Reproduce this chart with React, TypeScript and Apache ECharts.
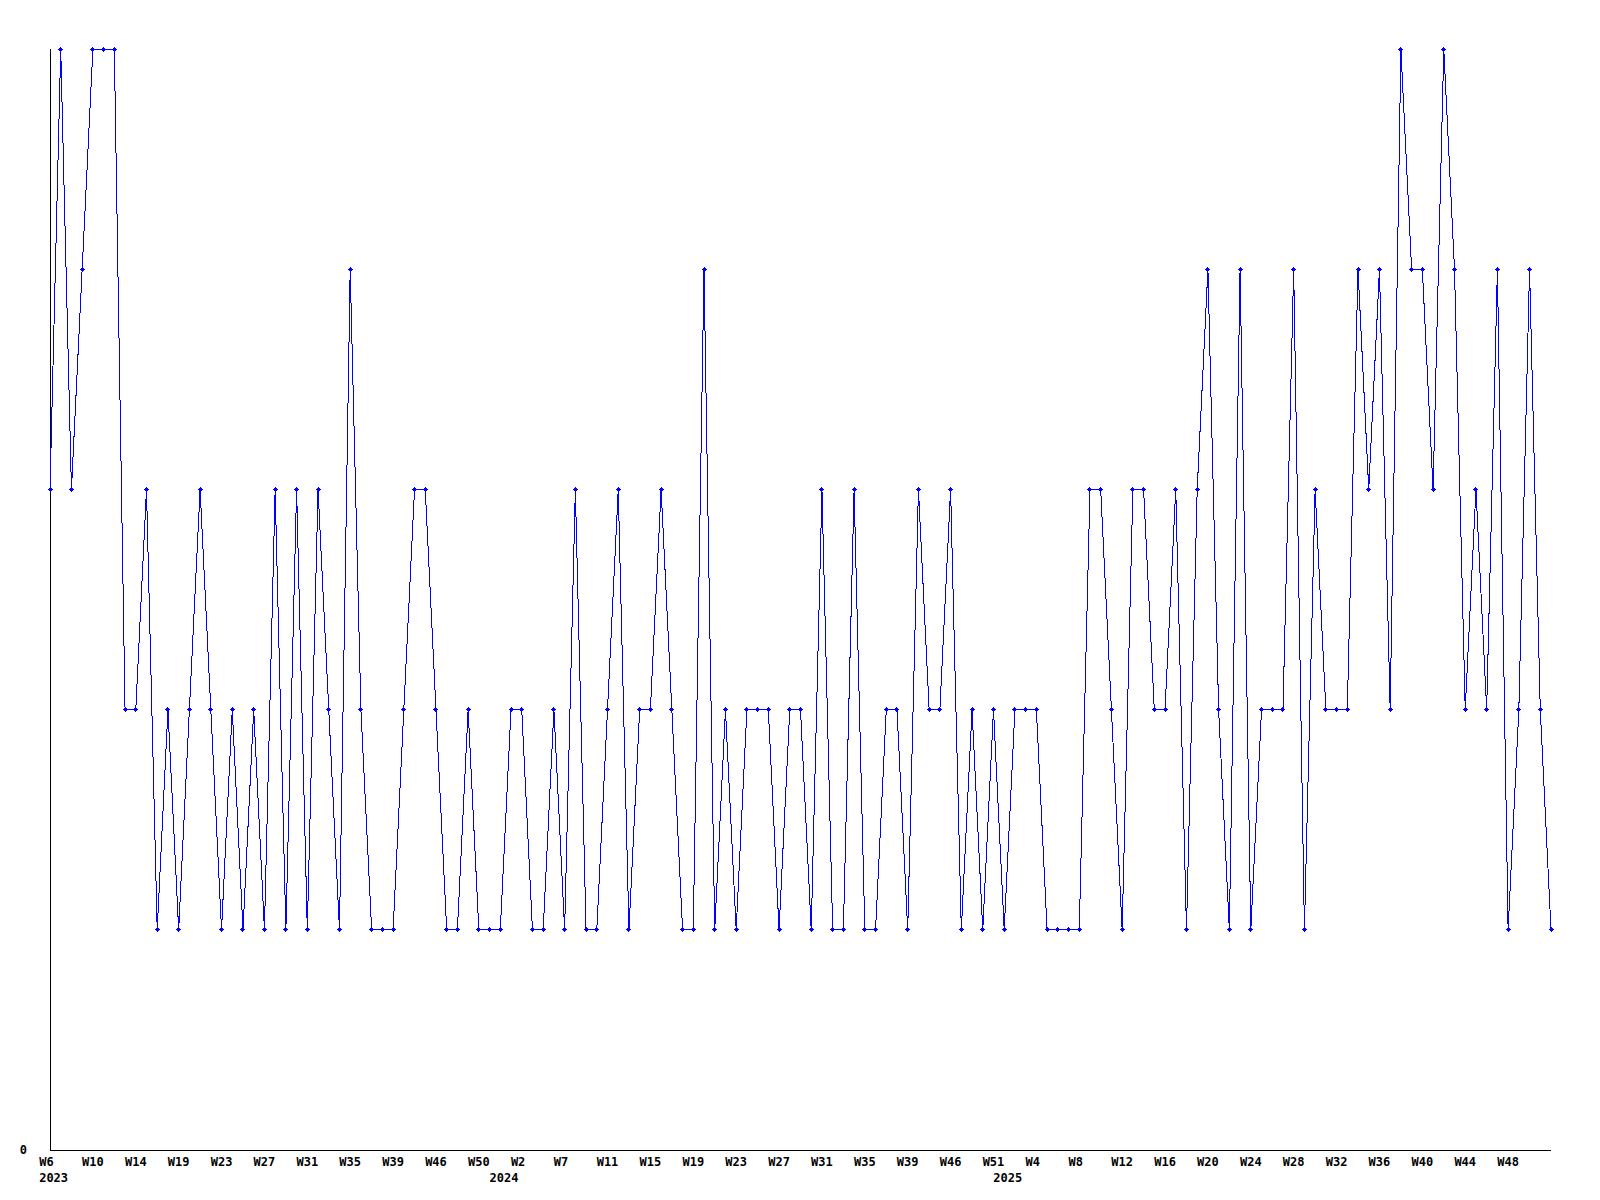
import React, { useEffect, useRef } from 'react';
import * as echarts from 'echarts';

// ISO week numbers present in the data, per year
const weeks2023 = [6, 7, 8, 9, 10, 11, 12, 13, 14, 15, 17, 18, 19, 20, 21, 22, 23, 24, 25, 26, 27, 28, 29, 30, 31, 32, 33, 34, 35, 36, 37, 38, 39, 40, 41, 45, 46, 47, 48, 49, 50, 51, 52];
const weeks2024 = [1, 2, 3, 5, 6, 7, 8, 9, 10, 11, 12, 13, 14, 15, 16, 17, 18, 19, 20, 21, 22, 23, 24, 25, 26, 27, 28, 29, 30, 31, 32, 33, 34, 35, 36, 37, 38, 39, 40, 41, 45, 46, 47, 48, 50, 51, 52];
const weeks2025 = [1, 2, 4, 5, 6, 7, 8, 9, 10, 11, 12, 13, 14, 15, 16, 17, 18, 19, 20, 21, 22, 23, 24, 25, 26, 27, 28, 29, 30, 31, 32, 33, 34, 35, 36, 37, 38, 39, 40, 41, 42, 43, 44, 45, 46, 47, 48, 49, 50, 51, 52];

const categories: string[] = [
  ...weeks2023.map((w) => `2023-W${w}`),
  ...weeks2024.map((w) => `2024-W${w}`),
  ...weeks2025.map((w) => `2025-W${w}`),
];

const values = [
  3, 5, 3, 4, 5, 5, 5, 2, 2, 3,
  1, 2, 1, 2, 3, 2, 1, 2, 1, 2,
  1, 3, 1, 3, 1, 3, 2, 1, 4, 2,
  1, 1, 1, 2, 3, 3, 2, 1, 1, 2,
  1, 1, 1, 2, 2, 1, 1, 2, 1, 3,
  1, 1, 2, 3, 1, 2, 2, 3, 2, 1,
  1, 4, 1, 2, 1, 2, 2, 2, 1, 2,
  2, 1, 3, 1, 1, 3, 1, 1, 2, 2,
  1, 3, 2, 2, 3, 1, 2, 1, 2, 1,
  2, 2, 2, 1, 1, 1, 1, 3, 3, 2,
  1, 3, 3, 2, 2, 3, 1, 3, 4, 2,
  1, 4, 1, 2, 2, 2, 4, 1, 3, 2,
  2, 2, 4, 3, 4, 2, 5, 4, 4, 3,
  5, 4, 2, 3, 2, 4, 1, 2, 4, 2,
  1,
];

const yearLabels = ['2023', '2024', '2025'];
const yearLabelAt = [0, 42, 89];
const weekLabelStep = 4;

const FONT = '"DejaVu Sans Mono", "Liberation Mono", monospace';
const NBSP = '\u00A0';
const MARKER = 'path://M2,0L3,0L3,1L4,1L4,2L5,2L5,3L4,3L4,4L3,4L3,5L2,5L2,4L1,4L1,3L0,3L0,2L1,2L1,1L2,1Z';

export default function App() {
  const ref = useRef<HTMLDivElement>(null);

  useEffect(() => {
    const chart = echarts.init(ref.current as HTMLDivElement, null, { renderer: 'svg' });
    const labelText = {
      color: '#000000',
      fontFamily: FONT,
      fontSize: 12,
      fontWeight: 'bold',
    };
    chart.setOption({
      animation: false,
      backgroundColor: '#ffffff',
      grid: { left: 50, right: 49, top: 49, bottom: 50, containLabel: false, outerBoundsMode: 'none' },
      xAxis: [
        {
          type: 'category',
          data: categories,
          boundaryGap: false,
          axisLine: { show: true, lineStyle: { color: '#000000', width: 1 } },
          axisTick: { show: false },
          splitLine: { show: false },
          axisLabel: {
            ...labelText,
            margin: 6,
            interval: (i: number) => i % weekLabelStep === 0 && i < categories.length - 1,
            formatter: (v: string) => {
              const w = 'W' + v.split('-W')[1];
              return w.length < 3 ? w + NBSP : w;
            },
          },
        },
        {
          type: 'category',
          data: categories,
          boundaryGap: false,
          position: 'bottom',
          axisLine: { show: false },
          axisTick: { show: false },
          splitLine: { show: false },
          axisLabel: {
            ...labelText,
            margin: 22,
            interval: (i: number) => yearLabelAt.indexOf(i) >= 0,
            formatter: (_v: string, i: number) => {
              const k = yearLabelAt.indexOf(i);
              return k >= 0 ? NBSP + yearLabels[k] : '';
            },
          },
        },
      ],
      yAxis: {
        type: 'value',
        min: 0,
        max: 5,
        interval: 5,
        axisLine: { show: true, lineStyle: { color: '#000000', width: 1 } },
        axisTick: { show: false },
        splitLine: { show: false },
        axisLabel: {
          ...labelText,
          margin: 23,
          padding: [4, 0, 0, 0],
          formatter: (v: number) => (v === 0 ? '0' : ''),
        },
      },
      series: [
        {
          type: 'line',
          data: values,
          xAxisIndex: 0,
          yAxisIndex: 0,
          symbol: MARKER,
          symbolSize: 5,
          showSymbol: true,
          showAllSymbol: true,
          clip: false,
          silent: true,
          lineStyle: { color: '#0000ff', width: 1 },
          itemStyle: { color: '#0000ff', borderWidth: 0 },
          emphasis: { disabled: true },
        },
      ],
    });
    return () => chart.dispose();
  }, []);

  return (
    <div>
      <style>{`#chart svg path { shape-rendering: crispEdges; }`}</style>
      <div
        id="chart"
        ref={ref}
        style={{ position: 'fixed', left: 0, top: 0, width: 1600, height: 1200, background: '#ffffff' }}
      />
    </div>
  );
}
